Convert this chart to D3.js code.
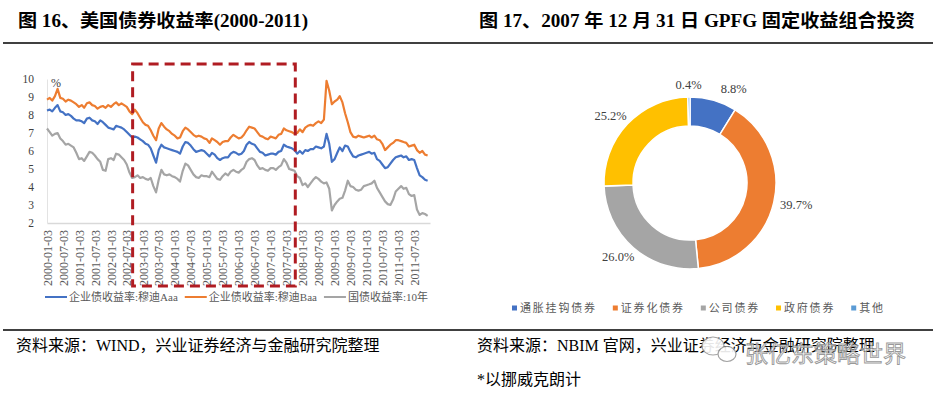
<!DOCTYPE html>
<html>
<head>
<meta charset="utf-8">
<script src="https://cdn.jsdelivr.net/npm/d3@7"></script>
<style>
  body { margin: 0; background: #fff; }
  text { font-family: "Liberation Serif", "Noto Sans CJK SC", serif; }
</style>
</head>
<body>
<script>
// ---- data: US bond yields, monthly (2000-01 .. 2011-12) ----
var startYear = 2000;
var baa = [
  8.85, 8.95, 8.80, 9.05, 9.45, 8.95, 8.90, 8.75, 8.85, 8.80, 8.70, 8.60,
  8.45, 8.55, 8.40, 8.65, 8.70, 8.55, 8.50, 8.35, 8.45, 8.50, 8.40, 8.55,
  8.45, 8.60, 8.70, 8.55, 8.65, 8.55, 8.45, 8.20, 8.05, 8.30, 8.10, 7.85,
  7.60, 7.45, 7.40, 7.15, 6.85, 6.60, 7.25, 7.55, 7.35, 7.20, 7.10, 6.95,
  6.85, 6.70, 6.75, 7.10, 7.30, 7.20, 7.05, 6.90, 6.80, 6.85, 6.80, 6.70,
  6.65, 6.45, 6.70, 6.60, 6.50, 6.35, 6.50, 6.55, 6.55, 6.75, 6.90, 6.80,
  6.70, 6.75, 6.90, 7.15, 7.35, 7.30, 7.25, 7.05, 6.85, 6.80, 6.70, 6.65,
  6.80, 6.75, 6.70, 6.90, 6.95, 7.25, 7.15, 7.10, 7.05, 6.95, 7.00, 7.20,
  7.05, 7.30, 7.40, 7.45, 7.40, 7.55, 7.65, 7.55, 7.75, 9.90, 9.35, 8.60,
  8.75, 8.85, 9.05, 8.70, 8.10, 7.60, 7.05, 6.80, 6.75, 6.85, 6.80, 6.75,
  6.80, 6.85, 6.75, 6.85, 6.65, 6.60, 6.40, 6.05, 6.20, 6.35, 6.45, 6.60,
  6.60, 6.55, 6.50, 6.45, 6.25, 6.30, 6.35, 6.05, 5.90, 6.00, 5.80, 5.75
];
var aaa = [
  8.25, 8.30, 8.20, 8.40, 8.55, 8.20, 8.15, 8.00, 8.05, 7.95, 7.80, 7.70,
  7.70, 7.65, 7.55, 7.80, 7.85, 7.70, 7.65, 7.50, 7.70, 7.60, 7.45, 7.30,
  7.25, 7.20, 7.40, 7.35, 7.30, 7.20, 7.05, 6.90, 6.75, 6.80, 6.75, 6.65,
  6.55, 6.40, 6.35, 6.15, 5.75, 5.35, 6.05, 6.35, 6.20, 6.15, 6.10, 6.05,
  6.00, 5.95, 5.85, 6.25, 6.50, 6.45, 6.30, 6.10, 5.95, 6.00, 6.05, 6.00,
  5.85, 5.70, 5.90, 5.80, 5.60, 5.50, 5.60, 5.65, 5.65, 5.85, 5.95, 5.90,
  5.80, 5.85, 6.00, 6.35, 6.50, 6.40, 6.35, 6.15, 5.95, 5.90, 5.75, 5.80,
  5.85, 5.85, 5.80, 5.95, 6.00, 6.35, 6.25, 6.20, 6.15, 6.05, 5.85, 6.00,
  5.85, 6.05, 6.00, 6.10, 6.10, 6.25, 6.20, 6.15, 6.25, 6.95, 6.40, 5.40,
  5.55, 5.90, 6.20, 6.00, 6.30, 6.25, 5.95, 5.70, 5.65, 5.75, 5.80, 5.85,
  5.90, 5.95, 5.85, 5.90, 5.55, 5.45, 5.25, 5.05, 5.10, 5.30, 5.50, 5.65,
  5.70, 5.75, 5.65, 5.70, 5.50, 5.55, 5.50, 5.05, 4.65, 4.55, 4.40, 4.35
];
var t10 = [
  7.25, 7.05, 6.85, 6.95, 7.00, 6.70, 6.55, 6.35, 6.40, 6.30, 6.20, 5.90,
  5.55, 5.60, 5.45, 5.70, 5.95, 5.90, 5.75, 5.55, 5.40, 4.95, 4.90, 5.55,
  5.60, 5.50, 5.85, 5.80, 5.65, 5.50, 5.25, 4.80, 4.50, 4.55, 4.65, 4.50,
  4.55, 4.45, 4.40, 4.50, 4.05, 3.70, 4.40, 4.95, 4.70, 4.65, 4.70, 4.60,
  4.55, 4.45, 4.30, 4.90, 5.30, 5.20, 4.95, 4.70, 4.55, 4.50, 4.65, 4.60,
  4.60, 4.55, 4.85, 4.65, 4.45, 4.40, 4.60, 4.75, 4.65, 4.85, 4.95, 4.85,
  4.80, 4.95, 5.05, 5.40, 5.55, 5.60, 5.50, 5.20, 5.00, 5.05, 4.95, 4.90,
  5.05, 5.05, 4.95, 5.10, 5.20, 5.55, 5.35, 5.00, 4.95, 4.90, 4.60, 4.50,
  4.10, 4.20, 4.00, 4.20, 4.40, 4.55, 4.45, 4.30, 4.20, 4.25, 3.90, 2.70,
  3.00, 3.20, 3.35, 3.40, 3.80, 4.35, 4.05, 4.00, 3.85, 3.80, 3.85, 4.05,
  4.10, 4.15, 4.20, 4.35, 3.95, 3.70, 3.45, 3.20, 3.05, 3.00, 3.30, 3.75,
  3.90, 4.05, 3.90, 3.95, 3.60, 3.50, 3.55, 2.75, 2.45, 2.55, 2.50, 2.40
];
var seriesNames = ["企业债收益率:穆迪Aaa", "企业债收益率:穆迪Baa", "国债收益率:10年"];
var xTickLabels = [
  "2000-01-03", "2000-07-03", "2001-01-03", "2001-07-03", "2002-01-03", "2002-07-03",
  "2003-01-03", "2003-07-03", "2004-01-03", "2004-07-03", "2005-01-03", "2005-07-03",
  "2006-01-03", "2006-07-03", "2007-01-03", "2007-07-03", "2008-01-03", "2008-07-03",
  "2009-01-03", "2009-07-03", "2010-01-03", "2010-07-03", "2011-01-03", "2011-07-03"
];
var yTicks = [2, 3, 4, 5, 6, 7, 8, 9, 10];
var highlight = ["2002-09-08", "2007-10-12"];

// ---- data: GPFG fixed income portfolio, 2007-12-31 ----
var pieCats = ["通胀挂钩债券", "证券化债券", "公司债券", "政府债券", "其他"];
var pieVals = [8.8, 39.7, 26.0, 25.2, 0.4];

var colors = ["#4472C4", "#ED7D31", "#A5A5A5", "#FFC000", "#5B9BD5"];
var W = 933, H = 396;
var parse = d3.timeParse("%Y-%m-%d"), fmt = d3.timeFormat("%Y-%m-%d");

var svg = d3.select("body").append("svg")
    .attr("width", W)
    .attr("height", H);

// ---- titles, rules and sources ----
svg.append("text").attr("x", 18).attr("y", 27)
    .attr("font-size", 18).attr("font-weight", "bold")
    .attr("textLength", 290).attr("lengthAdjust", "spacingAndGlyphs")
    .text("图 16、美国债券收益率(2000-2011)");
svg.append("text").attr("x", 479).attr("y", 27)
    .attr("font-size", 18).attr("font-weight", "bold")
    .attr("textLength", 436).attr("lengthAdjust", "spacingAndGlyphs")
    .text("图 17、2007 年 12 月 31 日 GPFG 固定收益组合投资");

[43, 330].forEach(function(yy) {
  svg.append("line").attr("x1", 3).attr("x2", W).attr("y1", yy).attr("y2", yy)
      .attr("stroke", "#000").attr("stroke-width", 1.3);
});

svg.append("text").attr("x", 16).attr("y", 351).attr("font-size", 16)
    .text("资料来源：WIND，兴业证券经济与金融研究院整理");
svg.append("text").attr("x", 477).attr("y", 351).attr("font-size", 16)
    .text("资料来源：NBIM 官网，兴业证券经济与金融研究院整理");
svg.append("text").attr("x", 477).attr("y", 385).attr("font-size", 16)
    .text("*以挪威克朗计");

// ---- left: line chart ----
var dates = aaa.map(function(d, i) { return new Date(startYear, i, 3); });
var x = d3.scaleTime()
    .domain([parse("2000-01-03"), parse("2011-12-30")])
    .range([47, 430]);
var y = d3.scaleLinear().domain([2, 10]).range([223, 79]);

var xAxis = svg.append("g")
    .attr("transform", "translate(0," + y(2) + ")")
    .call(d3.axisBottom(x)
        .tickValues(xTickLabels.map(parse))
        .tickFormat(fmt)
        .tickSize(0));
xAxis.select(".domain").attr("stroke", "#D9D9D9").attr("stroke-width", 1.5);
xAxis.selectAll("text")
    .attr("font-size", 12)
    .attr("font-family", "Liberation Serif")
    .attr("fill", "#595959")
    .attr("text-anchor", "end")
    .attr("transform", "rotate(-90)")
    .attr("x", -7).attr("y", 0).attr("dy", "0.35em");

var yAxis = svg.append("g")
    .attr("transform", "translate(" + x.range()[0] + ",0)")
    .call(d3.axisLeft(y).tickValues(yTicks).tickSize(0).tickPadding(13));
yAxis.select(".domain").attr("stroke", "#E3E3E3").attr("stroke-width", 1);
yAxis.selectAll("text")
    .attr("font-size", 11.5)
    .attr("font-family", "Liberation Serif")
    .attr("fill", "#404040");

svg.append("text").attr("x", 51).attr("y", 87)
    .attr("font-size", 12).attr("fill", "#404040").text("%");

var line = d3.line()
    .x(function(d, i) { return x(dates[i]); })
    .y(function(d) { return y(d); });

[t10, baa, aaa].forEach(function(s) {
  var c = s === aaa ? colors[0] : s === baa ? colors[1] : colors[2];
  svg.append("path")
      .datum(s)
      .attr("fill", "none")
      .attr("stroke", c)
      .attr("stroke-width", 2.2)
      .attr("stroke-linejoin", "round")
      .attr("d", line);
});

// red dashed highlight box
var hx0 = x(parse(highlight[0])), hx1 = x(parse(highlight[1]));
svg.append("rect")
    .attr("x", hx0).attr("y", y(10.83))
    .attr("width", hx1 - hx0).attr("height", y(2) + 63 - y(10.83))
    .attr("fill", "none")
    .attr("stroke", "#B01C22")
    .attr("stroke-width", 3)
    .attr("stroke-dasharray", "10,6");

// line legend
var lx = 45;
seriesNames.forEach(function(name, i) {
  svg.append("line").attr("x1", lx).attr("x2", lx + 22)
      .attr("y1", 297).attr("y2", 297)
      .attr("stroke", colors[i]).attr("stroke-width", 2);
  var t = svg.append("text").attr("x", lx + 24).attr("y", 301)
      .attr("font-size", 11).attr("fill", "#595959")
      .attr("letter-spacing", 0)
      .text(name);
  lx += 24 + t.node().getComputedTextLength() + 7;
});

// ---- right: donut ----
var cx = 690, cy = 183, rOut = 86, rIn = 57;
var pie = d3.pie().sort(null).value(function(d) { return d; });
var arcs = pie(pieVals);
var arc = d3.arc().innerRadius(rIn).outerRadius(rOut);
var g = svg.append("g").attr("transform", "translate(" + cx + "," + cy + ")");

g.selectAll("path.slice")
    .data(arcs)
    .enter().append("path")
    .attr("class", "slice")
    .attr("d", arc)
    .attr("fill", function(d, i) { return colors[i]; })
    .attr("stroke", "#fff")
    .attr("stroke-width", 1.5);

g.selectAll("text.lbl")
    .data(arcs)
    .enter().append("text")
    .attr("class", "lbl")
    .attr("font-size", 12.5)
    .attr("fill", "#404040")
    .attr("text-anchor", "middle")
    .attr("dy", "0.35em")
    .attr("x", function(d) {
      var a = (d.startAngle + d.endAngle) / 2;
      var push = d.endAngle - d.startAngle < 0.6 && d.endAngle - d.startAngle > 0.1 ? 14 : 0;
      return Math.sin(a) * (rOut + 6) + Math.sin(a) * 17 + push;
    })
    .attr("y", function(d) {
      var a = (d.startAngle + d.endAngle) / 2;
      return -Math.cos(a) * (rOut + 6) - Math.cos(a) * 6;
    })
    .text(function(d) { return d.data.toFixed(1) + "%"; });

// donut legend
var px = 512;
pieCats.forEach(function(name, i) {
  svg.append("rect").attr("x", px).attr("y", 305.5).attr("width", 5).attr("height", 5)
      .attr("fill", colors[i]);
  var t = svg.append("text").attr("x", px + 8).attr("y", 312)
      .attr("font-size", 11).attr("fill", "#595959")
      .attr("letter-spacing", 1.8)
      .text(name);
  px += 8 + t.node().getComputedTextLength() + 16;
});

// ---- watermark ----
var wm = svg.append("g").attr("opacity", 0.9);
wm.append("ellipse").attr("cx", 713).attr("cy", 346).attr("rx", 11).attr("ry", 9)
    .attr("fill", "#fff").attr("stroke", "#999").attr("stroke-width", 1.2);
wm.append("ellipse").attr("cx", 727).attr("cy", 354).attr("rx", 9).attr("ry", 7.5)
    .attr("fill", "#fff").attr("stroke", "#999").attr("stroke-width", 1.2);
wm.append("text").attr("x", 745).attr("y", 362)
    .attr("font-size", 23)
    .attr("font-family", "Noto Sans CJK SC")
    .attr("fill", "#fff").attr("fill-opacity", 0.75)
    .attr("stroke", "#8f8f8f").attr("stroke-width", 0.9)
    .text("张亿东策略世界");
</script>
</body>
</html>
